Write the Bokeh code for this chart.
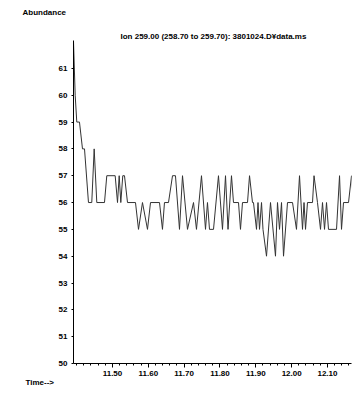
from bokeh.plotting import figure
from bokeh.models import Range1d, Title, FixedTicker
from bokeh.embed import file_html
from bokeh.resources import INLINE

# Extracted ion chromatogram, m/z 259 (vertices of the trace)
time_min = [
    11.3912, 11.3959, 11.4004, 11.4079, 11.4163, 11.4219, 11.4330, 11.4422,
    11.4489, 11.4562, 11.4777, 11.4841, 11.5075, 11.5140, 11.5187, 11.5232,
    11.5287, 11.5335, 11.5419, 11.5642, 11.5726, 11.5837, 11.5977, 11.6061,
    11.6312, 11.6395, 11.6451, 11.6563, 11.6675, 11.6758, 11.6870, 11.6954,
    11.7093, 11.7261, 11.7344, 11.7484, 11.7596, 11.7651, 11.7707, 11.7819,
    11.7958, 11.8070, 11.8154, 11.8224, 11.8321, 11.8377, 11.8517, 11.8572,
    11.8628, 11.8768, 11.8824, 11.8907, 11.8935, 11.9019, 11.9061, 11.9103,
    11.9159, 11.9200, 11.9298, 11.9410, 11.9549, 11.9605, 11.9661, 11.9717,
    11.9773, 11.9884, 12.0024, 12.0135, 12.0219, 12.0303, 12.0345, 12.0387,
    12.0442, 12.0582, 12.0624, 12.0721, 12.0805, 12.0861, 12.0917, 12.0973,
    12.1028, 12.1252, 12.1336, 12.1391, 12.1447, 12.1587, 12.1670, 12.1726,
]
abundance = [
    62, 60, 59, 59, 58, 58, 56, 56,
    58, 56, 56, 57, 57, 56, 57, 56,
    57, 57, 56, 56, 55, 56, 55, 56,
    56, 55, 56, 56, 57, 57, 55, 57,
    55, 56, 55, 57, 55, 56, 55, 55,
    57, 55, 57, 55, 57, 56, 56, 55,
    56, 56, 57, 56, 56, 55, 56, 55,
    56, 55, 54, 56, 54, 56, 55, 56,
    54, 56, 56, 55, 57, 55, 56, 55,
    56, 56, 57, 56, 55, 56, 55, 56,
    55, 55, 57, 55, 56, 56, 57, 56,
]

x_ticks = [11.50, 11.60, 11.70, 11.80, 11.90, 12.00, 12.10]
y_ticks = [50, 51, 52, 53, 54, 55, 56, 57, 58, 59, 60, 61]

title_text = "Ion 259.00 (258.70 to 259.70): 3801024.D\u00a5data.ms"
font = "Liberation Sans"

p = figure(
    width=353, height=394,
    output_backend="svg", toolbar_location=None,
    x_range=Range1d(11.3912, 12.167), y_range=Range1d(50, 62.04),
    min_border_left=73, min_border_right=2,
    min_border_top=40, min_border_bottom=31,
    background_fill_color="white", border_fill_color="white",
    outline_line_color=None,
)
p.grid.visible = False

p.line(time_min, abundance, line_color="#333333", line_width=1)

# axes
for ax in (p.xaxis[0], p.yaxis[0]):
    ax.axis_line_color = "black"
    ax.axis_line_width = 1
    ax.major_label_text_font = font
    ax.major_label_text_font_style = "bold"
    ax.major_label_text_font_size = "8px"
    ax.major_label_text_color = "black"
    ax.major_tick_line_color = "black"
    ax.minor_tick_line_color = "black"

p.xaxis.ticker = FixedTicker(
    ticks=x_ticks,
    minor_ticks=[round(11.40 + 0.02 * i, 2) for i in range(39)],
)
p.xaxis.major_label_overrides = {t: f"{t:.2f}" for t in x_ticks}
p.xaxis.major_tick_out = 4
p.xaxis.major_tick_in = 0
p.xaxis.minor_tick_out = 2
p.xaxis.minor_tick_in = 0
p.xaxis.major_label_standoff = 3

p.yaxis.ticker = FixedTicker(ticks=y_ticks)
p.yaxis.major_tick_out = 2
p.yaxis.major_tick_in = 0
p.yaxis.minor_tick_line_color = None
p.yaxis.major_label_standoff = 4

# captions in the side panels (stacked outward from the frame)
caption = dict(text_font=font, text_font_style="bold", text_color="black",
               text_font_size="8px")
p.add_layout(Title(text=title_text, align="left", offset=47, standoff=-1,
                   vertical_align="bottom", **caption), "above")
p.add_layout(Title(text=" ", align="left", offset=0, standoff=2,
                   text_font_size="1px"), "above")
p.add_layout(Title(text="Abundance", align="left", offset=-51, standoff=13,
                   vertical_align="top", **caption), "above")
p.add_layout(Title(text="Time-->", align="left", offset=-48, standoff=-2,
                   vertical_align="top", **caption), "below")

open("out.html", "w").write(file_html(p, INLINE))
